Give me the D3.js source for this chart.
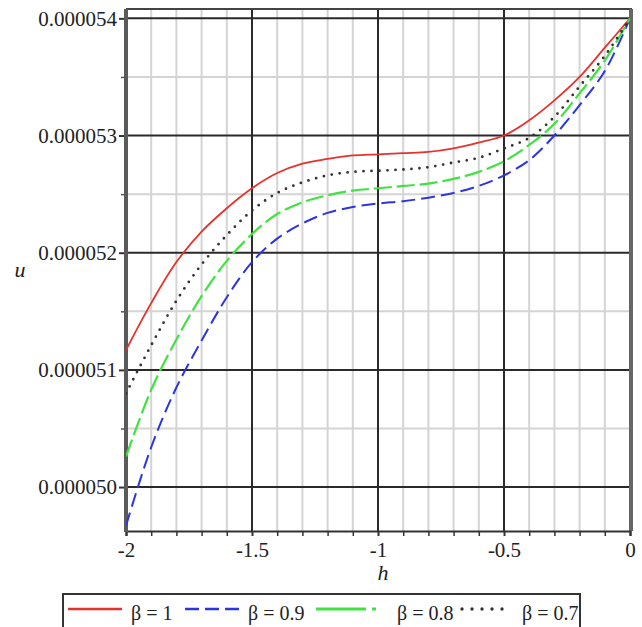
<!DOCTYPE html>
<html>
<head>
<meta charset="utf-8">
<script src="https://cdn.jsdelivr.net/npm/d3@7"></script>
<style>
  body { margin: 0; background: #fff; }
  svg { display: block; }
  text { font-family: "Liberation Serif", "DejaVu Serif", serif; fill: #222; }
</style>
</head>
<body>
<svg id="chart" width="642" height="627"></svg>
<script>
// h values (x axis)
const hVals = [-2, -1.9, -1.8, -1.7, -1.6, -1.5, -1.4, -1.3, -1.2, -1.1, -1, -0.9, -0.8, -0.7, -0.6, -0.5, -0.4, -0.3, -0.2, -0.1, 0];
// u values, in units of 1e-6
const beta1  = [51.17, 51.57, 51.92, 52.18, 52.38, 52.55, 52.68, 52.76, 52.80, 52.83, 52.84, 52.85, 52.86, 52.89, 52.94, 53.00, 53.13, 53.30, 53.50, 53.75, 54.00];
const beta09 = [49.67, 50.34, 50.85, 51.25, 51.62, 51.92, 52.12, 52.25, 52.34, 52.39, 52.42, 52.44, 52.47, 52.51, 52.57, 52.66, 52.79, 53.00, 53.26, 53.55, 54.00];
const beta08 = [50.26, 50.83, 51.26, 51.63, 51.93, 52.16, 52.33, 52.43, 52.49, 52.53, 52.55, 52.57, 52.59, 52.63, 52.69, 52.78, 52.92, 53.10, 53.36, 53.64, 54.00];
const beta07 = [50.80, 51.21, 51.59, 51.90, 52.15, 52.36, 52.51, 52.60, 52.66, 52.69, 52.70, 52.71, 52.73, 52.77, 52.81, 52.89, 52.98, 53.16, 53.42, 53.68, 54.00];

const seriesNames = ["β = 1", "β = 0.9", "β = 0.8", "β = 0.7"];

const xMajor = [-2, -1.5, -1, -0.5, 0];
const xTickLabels = ["-2", "-1.5", "-1", "-0.5", "0"];
const xMinor = [-1.9, -1.8, -1.7, -1.6, -1.4, -1.3, -1.2, -1.1, -0.9, -0.8, -0.7, -0.6, -0.4, -0.3, -0.2, -0.1];
const yMajor = [50, 51, 52, 53, 54];
const yTickLabels = ["0.000050", "0.000051", "0.000052", "0.000053", "0.000054"];
const yMinor = [50.5, 51.5, 52.5, 53.5];

const styles = [
  { color: "#e8312b", dash: null,   width: 1.8, cap: "butt" },
  { color: "#2b35e0", dash: "14,6", width: 2,   cap: "butt" },
  { color: "#3fe33f", dash: "18,5", width: 2.2, cap: "butt" },
  { color: "#333",    dash: "0,8",  width: 2.8, cap: "round" }
];

const pLeft = 126, pRight = 630, pTop = 9, pBottom = 531;

const x = d3.scaleLinear().domain([-2, 0]).range([pLeft, pRight]);
const y = d3.scaleLinear().domain([49.625, 54.08]).range([pBottom, pTop]);

const svg = d3.select("#chart");

// minor grid
svg.append("g").selectAll("line").data(xMinor).join("line")
  .attr("x1", d => x(d)).attr("x2", d => x(d))
  .attr("y1", pTop).attr("y2", pBottom)
  .attr("stroke", "#d4d4d4").attr("stroke-width", 2);
svg.append("g").selectAll("line").data(yMinor).join("line")
  .attr("x1", pLeft).attr("x2", pRight)
  .attr("y1", d => y(d)).attr("y2", d => y(d))
  .attr("stroke", "#d4d4d4").attr("stroke-width", 2);

// major grid
svg.append("g").selectAll("line").data(xMajor.slice(1, -1)).join("line")
  .attr("x1", d => x(d)).attr("x2", d => x(d))
  .attr("y1", pTop).attr("y2", pBottom)
  .attr("stroke", "#2a2a2a").attr("stroke-width", 2);
svg.append("g").selectAll("line").data(yMajor).join("line")
  .attr("x1", pLeft).attr("x2", pRight)
  .attr("y1", d => y(d)).attr("y2", d => y(d))
  .attr("stroke", "#2a2a2a").attr("stroke-width", 2);

// frame
svg.append("line").attr("x1", pLeft).attr("x2", pRight + 2).attr("y1", pTop).attr("y2", pTop)
  .attr("stroke", "#444").attr("stroke-width", 2);
svg.append("line").attr("x1", pRight + 1).attr("x2", pRight + 1).attr("y1", pTop).attr("y2", pBottom)
  .attr("stroke", "#666").attr("stroke-width", 4);

// x axis
const xAxis = d3.axisBottom(x).tickValues(xMajor)
  .tickFormat((d, i) => xTickLabels[i]).tickSize(5).tickPadding(6);
const gx = svg.append("g").attr("transform", `translate(0,${pBottom})`).call(xAxis);
gx.select(".domain").attr("stroke", "#333").attr("stroke-width", 2);
gx.selectAll(".tick line").attr("stroke", "#333").attr("stroke-width", 2);
gx.selectAll("text").attr("font-size", 21).attr("fill", "#222")
  .style("font-family", "'Liberation Serif', serif");
svg.append("g").attr("transform", `translate(0,${pBottom})`)
  .call(d3.axisBottom(x).tickValues(xMinor).tickFormat("").tickSize(5))
  .call(g => g.select(".domain").remove())
  .selectAll("line").attr("stroke", "#333").attr("stroke-width", 1.5);

// y axis
const yAxis = d3.axisLeft(y).tickValues(yMajor)
  .tickFormat((d, i) => yTickLabels[i]).tickSize(7).tickPadding(2);
const gy = svg.append("g").attr("transform", `translate(${pLeft},0)`).call(yAxis);
gy.select(".domain").remove();
gy.selectAll(".tick line").attr("stroke", "#333").attr("stroke-width", 2);
gy.selectAll("text").attr("font-size", 21).attr("fill", "#222")
  .style("font-family", "'Liberation Serif', serif");
svg.append("g").attr("transform", `translate(${pLeft},0)`)
  .call(d3.axisLeft(y).tickValues(yMinor).tickFormat("").tickSize(5))
  .call(g => g.select(".domain").remove())
  .selectAll("line").attr("stroke", "#555").attr("stroke-width", 1.5);
svg.append("line").attr("x1", pLeft).attr("x2", pLeft).attr("y1", pTop).attr("y2", pBottom + 1)
  .attr("stroke", "#5a5a5a").attr("stroke-width", 4);

// axis titles
svg.append("text").attr("x", 20).attr("y", 277).attr("font-size", 22)
  .attr("font-style", "italic").attr("text-anchor", "middle").text("u");
svg.append("text").attr("x", 383).attr("y", 580).attr("font-size", 22)
  .attr("font-style", "italic").attr("text-anchor", "middle").text("h");

// curves
svg.append("clipPath").attr("id", "plotclip").append("rect")
  .attr("x", pLeft).attr("y", pTop).attr("width", pRight - pLeft).attr("height", pBottom - pTop);

const line = d3.line()
  .x(d => x(d[0])).y(d => y(d[1]))
  .curve(d3.curveCatmullRom.alpha(0.5));

const allSeries = [beta1, beta09, beta08, beta07];
const gLines = svg.append("g").attr("clip-path", "url(#plotclip)");
allSeries.forEach((vals, i) => {
  const s = styles[i];
  gLines.append("path")
    .datum(hVals.map((h, j) => [h, vals[j]]))
    .attr("d", line)
    .attr("fill", "none")
    .attr("stroke", s.color)
    .attr("stroke-width", s.width)
    .attr("stroke-linecap", s.cap)
    .attr("stroke-dasharray", s.dash);
});

// legend
const legend = svg.append("g");
legend.append("rect").attr("x", 63).attr("y", 594).attr("width", 517).attr("height", 40)
  .attr("fill", "#fff").attr("stroke", "#333").attr("stroke-width", 2);
const legendX = [68, 185, 316, 462];
const legendLen = [54, 55, 60, 48];
const legendTextX = [131, 248, 397, 522];
seriesNames.forEach((name, i) => {
  const s = styles[i];
  legend.append("line")
    .attr("x1", legendX[i]).attr("x2", legendX[i] + legendLen[i])
    .attr("y1", 609).attr("y2", 609)
    .attr("stroke", s.color).attr("stroke-width", s.width + 0.6)
    .attr("stroke-linecap", s.cap)
    .attr("stroke-dasharray", i === 2 ? "50,6,4,20" : (i === 3 ? "0,10" : s.dash));
  legend.append("text").attr("x", legendTextX[i]).attr("y", 620)
    .attr("font-size", 20).text(name);
});
</script>
</body>
</html>
